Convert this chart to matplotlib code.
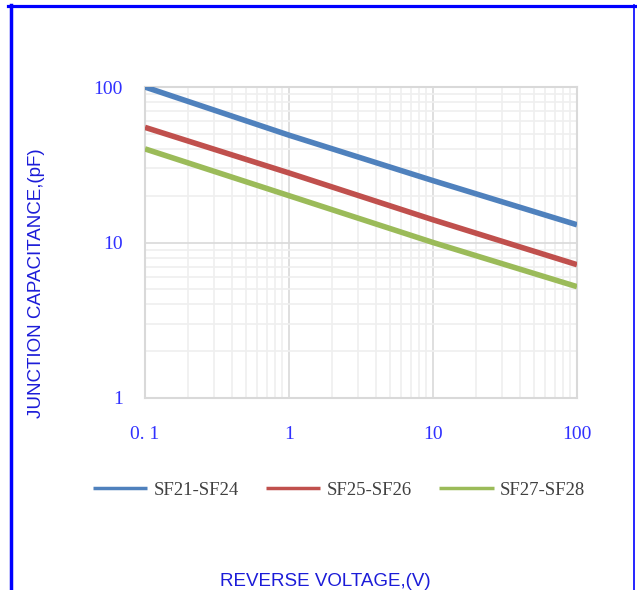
import matplotlib
matplotlib.use('Agg')
import matplotlib.pyplot as plt
from matplotlib.lines import Line2D
from matplotlib.ticker import FixedLocator, FixedFormatter, LogLocator, NullFormatter

voltage = [0.1, 1, 10, 100]
series_names = ['SF21-SF24', 'SF25-SF26', 'SF27-SF28']
cap_sf21_24 = [100, 49, 25, 13]
cap_sf25_26 = [55, 28, 14, 7.2]
cap_sf27_28 = [40, 20, 10, 5.2]
x_tick_vals = [0.1, 1, 10, 100]
x_tick_labels = ['0. 1', '1', '10', '100']
y_tick_vals = [1, 10, 100]
y_tick_labels = ['1', '10', '100']

colors = ['#4f81bd', '#c0504d', '#9bbb59']
tick_color = '#3030ff'
label_color = '#1c1cd8'

W, H = 637, 590
fig = plt.figure(figsize=(W / 100, H / 100), dpi=100)
ax = fig.add_axes([145 / W, 1 - 398 / H, (577 - 145) / W, (398 - 87) / H])

for vals, name, c in zip([cap_sf21_24, cap_sf25_26, cap_sf27_28], series_names, colors):
    ax.plot(voltage, vals, color=c, lw=4.0, label=name, solid_capstyle='butt', zorder=3)

ax.set_xscale('log')
ax.set_yscale('log')
ax.set_xlim(0.1, 100)
ax.set_ylim(1, 100)

ax.xaxis.set_major_locator(FixedLocator(x_tick_vals))
ax.xaxis.set_major_formatter(FixedFormatter(x_tick_labels))
ax.yaxis.set_major_locator(FixedLocator(y_tick_vals))
ax.yaxis.set_major_formatter(FixedFormatter(y_tick_labels))
for a in (ax.xaxis, ax.yaxis):
    a.set_minor_locator(LogLocator(base=10, subs=range(2, 10)))
    a.set_minor_formatter(NullFormatter())

ax.grid(True, which='major', color='#d9d9d9', lw=1.2, zorder=1)
ax.grid(True, which='minor', color='#efefef', lw=1.2, zorder=0)
ax.tick_params(which='both', length=0)
ax.tick_params(axis='x', pad=20, labelsize=14, labelcolor=tick_color)
ax.tick_params(axis='y', pad=16, labelsize=14, labelcolor=tick_color)
for lab in ax.get_xticklabels() + ax.get_yticklabels():
    lab.set_family('Liberation Serif')
for s in ax.spines.values():
    s.set_color('#d9d9d9')
    s.set_linewidth(1.5)

leg = fig.legend(loc='center', bbox_to_anchor=(339 / W, 1 - 490 / H), ncol=3, frameon=False,
                 handlelength=2.9, handletextpad=0.35, columnspacing=1.45,
                 prop={'family': 'Liberation Serif', 'size': 13.5})
for t in leg.get_texts():
    t.set_color('#404040')
for h in leg.legend_handles:
    h.set_linewidth(2.5)

fig.text(325 / W, 1 - 581 / H, 'REVERSE VOLTAGE,(V)', ha='center', va='center',
         color=label_color, fontsize=13.5, family='Liberation Sans')
fig.text(37 / W, 1 - 283 / H, 'JUNCTION CAPACITANCE,(pF)', ha='center', va='center',
         rotation=90, color=label_color, fontsize=13.5, family='Liberation Sans')

# blue frame around the figure
fig.add_artist(Line2D([8 / W, 636 / W], [1 - 6 / H, 1 - 6 / H], transform=fig.transFigure,
                      color='#0000ff', lw=2.3))
fig.add_artist(Line2D([10.5 / W, 10.5 / W], [0, 1 - 5 / H], transform=fig.transFigure,
                      color='#0000ff', lw=2.5))
fig.add_artist(Line2D([634 / W, 634 / W], [0, 1 - 5 / H], transform=fig.transFigure,
                      color='#0000ff', lw=1.2))

fig.savefig('out.png', dpi=100)
